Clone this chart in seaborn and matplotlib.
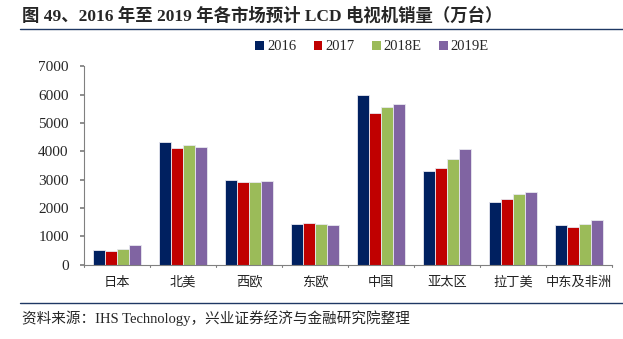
import matplotlib
matplotlib.use("Agg")
import matplotlib.pyplot as plt
import seaborn as sns
import pandas as pd
from matplotlib.lines import Line2D
from matplotlib.patches import Patch

regions = ["日本", "北美", "西欧", "东欧", "中国", "亚太区", "拉丁美", "中东及非洲"]
series = ["2016", "2017", "2018E", "2019E"]
v2016 = [510, 4320, 2975, 1430, 5980, 3305, 2220, 1400]
v2017 = [475, 4125, 2905, 1465, 5350, 3410, 2305, 1315]
v2018 = [550, 4210, 2905, 1430, 5555, 3715, 2480, 1430]
v2019 = [690, 4150, 2940, 1400, 5660, 4070, 2550, 1560]
yticks = [0, 1000, 2000, 3000, 4000, 5000, 6000, 7000]
colors = ["#002060", "#C00000", "#9BBB59", "#8064A2"]

title = "图 49、2016 年至 2019 年各市场预计 LCD 电视机销量（万台）"
source = "资料来源：IHS Technology，兴业证券经济与金融研究院整理"

df = pd.DataFrame({
    "region": regions * 4,
    "series": sum([[s] * len(regions) for s in series], []),
    "value": v2016 + v2017 + v2018 + v2019,
})

sns.set_theme(style="white")
plt.rcParams["font.family"] = ["Liberation Serif", "Noto Sans CJK SC", "DejaVu Sans"]

fig = plt.figure(figsize=(6.23, 3.39), dpi=100)
ax = fig.add_axes([84 / 623, 1 - 264.5 / 339, (612 - 84) / 623, (264.5 - 66.3) / 339])

sns.barplot(data=df, x="region", y="value", hue="series", hue_order=series,
            order=regions, palette=colors, width=0.74, ax=ax, legend=False,
            edgecolor="#e8e8f0", linewidth=0.6, saturation=1)

ax.set_ylim(0, 7000)
ax.set_xlim(-0.5, len(regions) - 0.5)
ax.set_yticks(yticks)
ax.set_yticklabels([str(t) for t in yticks], fontsize=11, family=["Liberation Serif"])
ax.set_xlabel("")
ax.set_ylabel("")
ax.set_xticks(range(len(regions)))
ax.set_xticklabels(regions, fontsize=9.5, family=["Noto Sans CJK SC"], color="#222222")
ax.tick_params(axis="x", length=0, pad=8)
ax.tick_params(axis="y", length=3, direction="out", color="#808080", left=True, pad=8)
for b in [i - 0.5 for i in range(len(regions) + 1)]:
    ax.plot([b, b], [0, -90], color="#808080", lw=0.8, clip_on=False,
            transform=ax.transData)
for s in ["top", "right"]:
    ax.spines[s].set_visible(False)
for s in ["left", "bottom"]:
    ax.spines[s].set_color("#808080")
    ax.spines[s].set_linewidth(0.8)

handles = [Patch(facecolor=c, edgecolor="none") for c in colors]
leg = fig.legend(handles, series, loc="center", bbox_to_anchor=(372 / 623, 1 - 47 / 339),
                 ncol=4, frameon=False, handlelength=0.6, handleheight=0.6,
                 handletextpad=0.2, columnspacing=1.2, prop={"family": "Liberation Serif", "size": 10.5})

fig.text(22 / 623, 1 - 16 / 339, title, fontsize=12.5, fontweight="bold",
         family=["Liberation Serif", "Noto Sans CJK SC"], va="center", ha="left")
fig.add_artist(Line2D([20 / 623, 1], [1 - 29 / 339, 1 - 29 / 339], color="#1F3864", lw=1.0))
fig.add_artist(Line2D([20 / 623, 1], [1 - 303 / 339, 1 - 303 / 339], color="#1F3864", lw=1.0))
fig.text(22 / 623, 1 - 318 / 339, source, fontsize=10.5,
         family=["Liberation Serif", "Noto Sans CJK SC"], va="center", ha="left")

fig.savefig("out.png", dpi=100)
